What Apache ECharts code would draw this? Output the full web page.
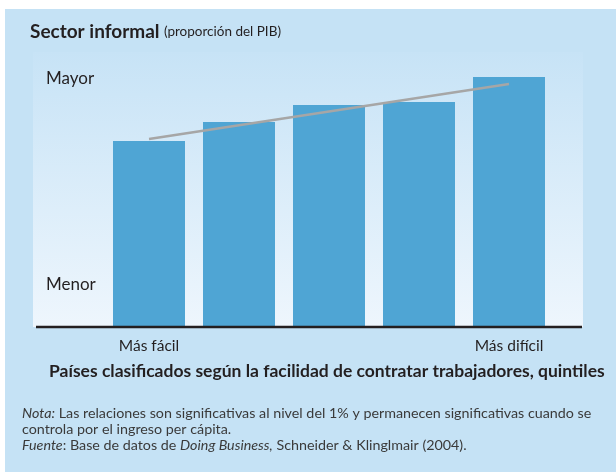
<!DOCTYPE html>
<html>
<head>
<meta charset="utf-8">
<script src="https://cdn.jsdelivr.net/npm/echarts@6/dist/echarts.min.js"></script>
<style>
  html, body { margin: 0; padding: 0; background: #fff; }
  #chart { width: 616px; height: 472px; }
</style>
</head>
<body>
<div id="chart"></div>
<script>
// quintiles, from easiest to hardest to hire workers
var categories = ['Más fácil', '', '', '', 'Más difícil'];
// informal sector size (no units in the original, 0-100 relative scale)
var barValues = [69.7, 76.8, 83.1, 84.3, 93.6];
// trend line: only the two end points are drawn
var trendValues = [70.4, null, null, null, 91.0];
// y axis only shows two words
var yTickValues = [16, 93];
var yTickLabels = ['Menor', 'Mayor'];

var font = 'Lato';
var ink = '#231f20';

var myChart = echarts.init(document.getElementById('chart'));

var option = {
  animation: false,
  backgroundColor: '#ffffff',
  textStyle: { fontFamily: font },
  graphic: [
    // outer light blue box
    { type: 'rect', z: -10, shape: { x: 5, y: 9, width: 611, height: 463 },
      style: { fill: '#c5e2f5' } },
    // plot panel with vertical gradient
    { type: 'rect', z: -9, shape: { x: 33, y: 52, width: 550, height: 275 },
      style: { fill: new echarts.graphic.LinearGradient(0, 0, 0, 1, [
        { offset: 0, color: '#c7e3f6' },
        { offset: 1, color: '#eef6fd' }
      ]) } },
    // base line
    { type: 'line', z: 10, shape: { x1: 36, y1: 327, x2: 582, y2: 327 },
      style: { stroke: '#231f20', lineWidth: 2.5 } }
  ],
  title: [
    {
      text: '{b|Sector informal} {n|(proporción del PIB)}',
      left: 30, top: 22, padding: 0,
      textStyle: {
        rich: {
          b: { fontFamily: font, fontWeight: 'bold', fontSize: 19, color: ink },
          n: { fontFamily: font, fontWeight: 'normal', fontSize: 13.5, color: ink }
        }
      }
    },
    {
      text: 'Países clasificados según la facilidad de contratar trabajadores, quintiles',
      left: 49, top: 362, padding: 0,
      textStyle: { fontFamily: font, fontWeight: 'bold', fontSize: 17.5, color: ink }
    },
    {
      text: '{i|Nota:}{n| Las relaciones son significativas al nivel del 1% y permanecen significativas cuando se}\n' +
            '{n|controla por el ingreso per cápita.}\n' +
            '{i|Fuente}{n|: Base de datos de }{i|Doing Business,}{n| Schneider & Klinglmair (2004).}',
      left: 22, top: 405, padding: 0,
      textStyle: {
        lineHeight: 16,
        rich: {
          i: { fontFamily: font, fontWeight: 'normal', fontStyle: 'italic', fontSize: 14.3, color: '#3a3a3a', lineHeight: 16 },
          n: { fontFamily: font, fontWeight: 'normal', fontSize: 14.3, color: '#3a3a3a', lineHeight: 16 }
        }
      }
    }
  ],
  grid: { left: 104, right: 62, top: 60, bottom: 145 },
  xAxis: {
    type: 'category',
    data: categories,
    axisLine: { show: false },
    axisTick: { show: false },
    axisLabel: { margin: 11, fontFamily: font, fontSize: 15.5, color: ink, interval: 0 }
  },
  yAxis: {
    type: 'value',
    min: 0,
    max: 100,
    splitLine: { show: false },
    axisLine: { show: false },
    axisTick: { show: false },
    axisLabel: {
      customValues: yTickValues,
      align: 'left',
      margin: 58,
      fontFamily: font,
      fontSize: 17,
      color: ink,
      formatter: function (v) {
        var i = yTickValues.indexOf(v);
        return i >= 0 ? yTickLabels[i] : '';
      }
    }
  },
  series: [
    {
      type: 'bar',
      data: barValues,
      barWidth: 72,
      itemStyle: { color: '#4fa5d4' }
    },
    {
      type: 'line',
      data: trendValues,
      connectNulls: true,
      symbol: 'none',
      lineStyle: { color: '#a6a6a6', width: 2.5 },
      z: 5
    }
  ]
};

myChart.setOption(option, true);
</script>
</body>
</html>
